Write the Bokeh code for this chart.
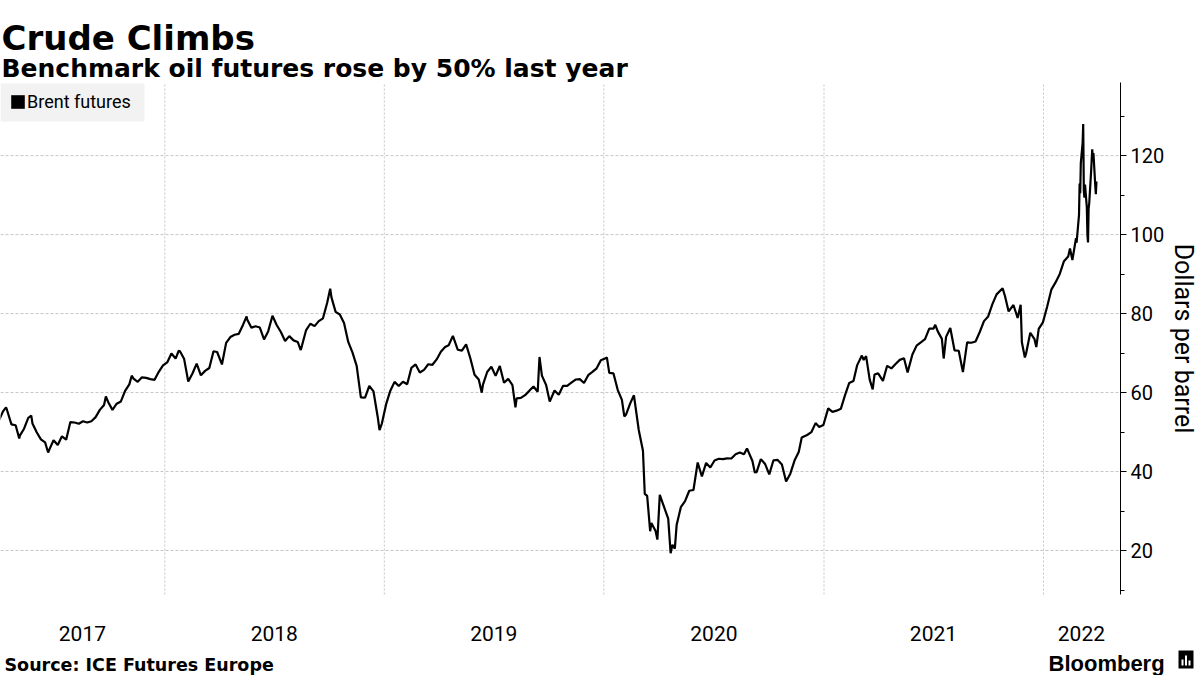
import pandas as pd
from bokeh.plotting import figure
from bokeh.models import (Range1d, FixedTicker, DatetimeTickFormatter, Legend, LegendItem,
                          Label, BoxAnnotation, ColumnDataSource)
from bokeh.embed import file_html
from bokeh.resources import INLINE

# ---------------- data (Brent front-month, USD/bbl) ----------------
dates = [
    "2017-03-31", "2017-04-07", "2017-04-12", "2017-04-13", "2017-04-21", "2017-04-28", "2017-05-04", "2017-05-05",
    "2017-05-12", "2017-05-19", "2017-05-24", "2017-05-26", "2017-06-02", "2017-06-09", "2017-06-16", "2017-06-21",
    "2017-06-23", "2017-06-30", "2017-07-07", "2017-07-14", "2017-07-21", "2017-07-28", "2017-08-04", "2017-08-11",
    "2017-08-18", "2017-08-25", "2017-09-01", "2017-09-08", "2017-09-15", "2017-09-22", "2017-09-25", "2017-09-29",
    "2017-10-06", "2017-10-13", "2017-10-20", "2017-10-27", "2017-11-03", "2017-11-07", "2017-11-10", "2017-11-17",
    "2017-11-24", "2017-12-01", "2017-12-08", "2017-12-15", "2017-12-22", "2017-12-29",
    "2018-01-05", "2018-01-12", "2018-01-19", "2018-01-24", "2018-01-26", "2018-02-02", "2018-02-09", "2018-02-16",
    "2018-02-23", "2018-03-02", "2018-03-09", "2018-03-16", "2018-03-23", "2018-03-29", "2018-04-06", "2018-04-13",
    "2018-04-20", "2018-04-27", "2018-05-04", "2018-05-11", "2018-05-17", "2018-05-18", "2018-05-25", "2018-06-01",
    "2018-06-08", "2018-06-15", "2018-06-22", "2018-06-29", "2018-07-06", "2018-07-13", "2018-07-20", "2018-07-27",
    "2018-08-03", "2018-08-10", "2018-08-15", "2018-08-17", "2018-08-24", "2018-08-31", "2018-09-07", "2018-09-14",
    "2018-09-21", "2018-09-28", "2018-10-03", "2018-10-05", "2018-10-12", "2018-10-19", "2018-10-26", "2018-11-02",
    "2018-11-09", "2018-11-16", "2018-11-23", "2018-11-30", "2018-12-07", "2018-12-14", "2018-12-21", "2018-12-24",
    "2018-12-28",
    "2019-01-04", "2019-01-11", "2019-01-18", "2019-01-25", "2019-02-01", "2019-02-08", "2019-02-15", "2019-02-22",
    "2019-03-01", "2019-03-08", "2019-03-15", "2019-03-22", "2019-03-29", "2019-04-05", "2019-04-12", "2019-04-18",
    "2019-04-25", "2019-05-03", "2019-05-10", "2019-05-17", "2019-05-24", "2019-05-31", "2019-06-07", "2019-06-12",
    "2019-06-14", "2019-06-21", "2019-06-28", "2019-07-05", "2019-07-12", "2019-07-19", "2019-07-26", "2019-08-02",
    "2019-08-07", "2019-08-09", "2019-08-16", "2019-08-23", "2019-08-30", "2019-09-06", "2019-09-13", "2019-09-16",
    "2019-09-20", "2019-09-27", "2019-10-03", "2019-10-11", "2019-10-18", "2019-10-25", "2019-11-01", "2019-11-08",
    "2019-11-15", "2019-11-22", "2019-11-29", "2019-12-06", "2019-12-13", "2019-12-20", "2019-12-27",
    "2020-01-03", "2020-01-06", "2020-01-10", "2020-01-17", "2020-01-24", "2020-01-31", "2020-02-04", "2020-02-07",
    "2020-02-14", "2020-02-20", "2020-02-28", "2020-03-06", "2020-03-09", "2020-03-13", "2020-03-18", "2020-03-20",
    "2020-03-27", "2020-03-30", "2020-04-03", "2020-04-09", "2020-04-17", "2020-04-21", "2020-04-24", "2020-04-28",
    "2020-05-01", "2020-05-08", "2020-05-15", "2020-05-22", "2020-05-29", "2020-06-05", "2020-06-12", "2020-06-19",
    "2020-06-26", "2020-07-03", "2020-07-10", "2020-07-17", "2020-07-24", "2020-07-31", "2020-08-07", "2020-08-14",
    "2020-08-21", "2020-08-26", "2020-09-04", "2020-09-08", "2020-09-11", "2020-09-18", "2020-09-25", "2020-10-02",
    "2020-10-09", "2020-10-16", "2020-10-23", "2020-10-30", "2020-11-06", "2020-11-13", "2020-11-20", "2020-11-25",
    "2020-12-04", "2020-12-11", "2020-12-18", "2020-12-24", "2020-12-31",
    "2021-01-08", "2021-01-15", "2021-01-22", "2021-01-29", "2021-02-05", "2021-02-12", "2021-02-19", "2021-02-25",
    "2021-03-05", "2021-03-08", "2021-03-12", "2021-03-18", "2021-03-23", "2021-03-26", "2021-04-01", "2021-04-09",
    "2021-04-16", "2021-04-23", "2021-04-30", "2021-05-07", "2021-05-14", "2021-05-20", "2021-05-28", "2021-06-04",
    "2021-06-11", "2021-06-18", "2021-06-25", "2021-07-02", "2021-07-05", "2021-07-09", "2021-07-16", "2021-07-19",
    "2021-07-23", "2021-07-30", "2021-08-06", "2021-08-13", "2021-08-20", "2021-08-27", "2021-09-03", "2021-09-10",
    "2021-09-17", "2021-09-24", "2021-10-01", "2021-10-08", "2021-10-15", "2021-10-25", "2021-10-29", "2021-11-04",
    "2021-11-12", "2021-11-19", "2021-11-24", "2021-11-26", "2021-12-01", "2021-12-03", "2021-12-10", "2021-12-17",
    "2021-12-20", "2021-12-24", "2021-12-31",
    "2022-01-07", "2022-01-14", "2022-01-21", "2022-01-28", "2022-02-04", "2022-02-11", "2022-02-14", "2022-02-18",
    "2022-02-24", "2022-02-25", "2022-03-01", "2022-03-02", "2022-03-03", "2022-03-04", "2022-03-07", "2022-03-08",
    "2022-03-09", "2022-03-10", "2022-03-11", "2022-03-14", "2022-03-15", "2022-03-16", "2022-03-17", "2022-03-18",
    "2022-03-21", "2022-03-23", "2022-03-24", "2022-03-25", "2022-03-28", "2022-03-29", "2022-03-30",
]
brent = [
    52.83, 55.24, 56.23, 55.89, 51.96, 51.73, 48.38, 49.10,
    50.84, 53.61, 54.15, 52.15, 49.95, 48.15, 47.37, 44.82,
    45.54, 47.92, 46.71, 48.91, 48.06, 52.52, 52.42, 52.10,
    52.72, 52.41, 52.75, 53.78, 55.62, 56.86, 59.02, 57.54,
    55.62, 57.17, 57.75, 60.44, 62.07, 64.27, 63.52, 62.72,
    63.86, 63.73, 63.40, 63.23, 65.25, 66.87,
    67.62, 69.87, 68.61, 70.53, 70.52, 68.58, 62.79, 64.84,
    67.31, 64.37, 65.49, 66.21, 70.45, 70.27, 67.11, 72.58,
    74.06, 74.64, 74.87, 77.12, 79.30, 78.51, 76.44, 76.79,
    76.46, 73.44, 75.55, 79.44, 77.11, 75.33, 73.07, 74.29,
    73.21, 72.81, 70.76, 71.83, 75.82, 77.42, 76.83, 78.09,
    78.80, 82.72, 86.29, 84.16, 80.43, 79.78, 77.62, 72.83,
    70.18, 66.76, 58.80, 58.71, 61.67, 60.28, 53.82, 50.47,
    52.20,
    57.06, 60.48, 62.70, 61.64, 62.75, 62.10, 66.25, 67.12,
    65.07, 65.74, 67.16, 67.03, 68.39, 70.34, 71.55, 71.97,
    74.35, 70.85, 70.62, 72.21, 68.69, 64.49, 63.29, 59.97,
    62.01, 65.20, 66.55, 64.23, 66.72, 62.47, 63.46, 61.89,
    56.23, 58.53, 58.64, 59.34, 60.43, 61.54, 60.22, 69.02,
    64.28, 61.91, 57.71, 60.51, 59.42, 61.67, 61.69, 62.51,
    63.30, 63.39, 62.43, 64.39, 65.22, 66.14, 68.16,
    68.60, 68.91, 64.98, 64.85, 60.69, 58.16, 53.96, 54.47,
    57.32, 59.31, 50.52, 45.27, 34.36, 33.85, 24.88, 26.98,
    24.93, 22.76, 34.11, 31.48, 28.08, 19.33, 21.44, 20.46,
    26.44, 30.97, 32.50, 35.13, 35.33, 42.30, 38.73, 42.19,
    41.02, 42.80, 43.24, 43.14, 43.34, 43.30, 44.40, 44.80,
    44.35, 45.86, 42.66, 39.78, 39.83, 43.15, 41.92, 39.27,
    42.85, 42.93, 41.77, 37.46, 39.45, 42.78, 44.96, 48.61,
    49.25, 49.97, 52.26, 51.29, 51.80,
    55.99, 55.10, 55.41, 55.88, 59.34, 62.43, 62.91, 66.88,
    69.36, 68.24, 69.22, 63.28, 60.79, 64.57, 64.86, 62.95,
    66.77, 66.11, 67.25, 68.28, 68.71, 65.11, 69.63, 71.89,
    72.69, 73.51, 76.18, 76.17, 77.16, 75.55, 73.59, 68.62,
    74.10, 76.33, 70.70, 70.59, 65.18, 72.70, 72.61, 72.92,
    75.34, 78.09, 79.28, 82.39, 84.86, 86.40, 84.38, 80.54,
    82.17, 78.89, 82.25, 72.72, 68.87, 69.88, 75.15, 73.52,
    71.52, 76.14, 77.78,
    81.75, 86.06, 87.89, 90.03, 93.27, 94.44, 96.48, 93.54,
    99.08, 97.93, 104.97, 112.93, 110.46, 118.11, 123.21, 127.98,
    111.14, 109.33, 112.67, 106.90, 99.91, 98.02, 106.64, 107.93,
    115.62, 121.60, 119.03, 120.65, 112.48, 110.23, 113.45,
]

year_starts = ["2018-01-01", "2019-01-01", "2020-01-01", "2021-01-01", "2022-01-01"]
year_label_dates = ["2017-08-17", "2018-07-02", "2019-07-02", "2020-07-02", "2021-07-02", "2022-03-05"]
y_ticks = [20, 40, 60, 80, 100, 120]
y_minor_ticks = [10, 30, 50, 70, 90, 110, 130]

title_text = "Crude Climbs"
subtitle_text = "Benchmark oil futures rose by 50% last year"
legend_text = "Brent futures"
y_label_text = "Dollars per barrel"
source_text = "Source: ICE Futures Europe"
brand_text = "Bloomberg"

# ---------------- layout constants ----------------
W, H = 1200, 675
canvas_x = ["2017-04-02 20:00", "2022-09-19"]   # whole canvas, left to right
canvas_y = [-11.65, 159.28]                       # whole canvas, bottom to top
plot_y = [8.86, 138.51]                           # extent of the chart area
axis_date = "2022-05-09"                          # where the value axis sits


def ms(d):
    return int((pd.Timestamp(d) - pd.Timestamp("1970-01-01")) // pd.Timedelta(milliseconds=1))


src = ColumnDataSource(dict(x=pd.to_datetime(dates), y=brent))

p = figure(width=W, height=H, output_backend="svg", toolbar_location=None, title=None,
           x_axis_type="datetime", y_axis_location="right",
           x_range=Range1d(ms(canvas_x[0]), ms(canvas_x[1])),
           y_range=Range1d(canvas_y[0], canvas_y[1]),
           min_border_left=0, min_border_right=0, min_border_top=0, min_border_bottom=0,
           background_fill_color="white", border_fill_color="white")
p.outline_line_color = None
p.xgrid.visible = False
p.ygrid.visible = False


def box(left, right, top, bottom, color, level="annotation"):
    # pixel box measured from the canvas top-left
    p.add_layout(BoxAnnotation(left=left, right=right, top=H - top, bottom=H - bottom,
                               left_units="screen", right_units="screen",
                               top_units="screen", bottom_units="screen",
                               fill_color=color, fill_alpha=1.0, line_color=None, level=level))


# legend background panel
box(0, 144, 83, 121, "#f2f2f2", level="underlay")

# grid lines confined to the chart area
grid_color = "#c6c6c6"
p.segment(x0=pd.to_datetime(year_starts), x1=pd.to_datetime(year_starts),
          y0=[plot_y[0]] * len(year_starts), y1=[plot_y[1]] * len(year_starts),
          line_color=grid_color, line_width=1, line_dash="2 2")
p.segment(x0=[pd.Timestamp(canvas_x[0])] * len(y_ticks), x1=[pd.Timestamp(axis_date)] * len(y_ticks),
          y0=y_ticks, y1=y_ticks, line_color=grid_color, line_width=1, line_dash="3 2")

p.line("x", "y", source=src, line_color="black", line_width=2.2)

# x axis: year labels centred in each visible year
p.xaxis.fixed_location = plot_y[0]
p.xaxis.ticker = FixedTicker(ticks=[ms(d) for d in year_label_dates])
fmt = "%Y"
p.xaxis.formatter = DatetimeTickFormatter(years=fmt, months=fmt, days=fmt, hours=fmt, hourmin=fmt,
                                          minutes=fmt, minsec=fmt, seconds=fmt, milliseconds=fmt,
                                          microseconds=fmt)
p.xaxis.axis_line_color = None
p.xaxis.major_tick_line_color = None
p.xaxis.minor_tick_line_color = None
p.xaxis.major_label_text_font = "Roboto"
p.xaxis.major_label_text_font_size = "21px"
p.xaxis.major_label_text_color = "#000000"
p.xaxis.major_label_standoff = 25

# value axis (right side of chart)
p.yaxis.fixed_location = ms(axis_date)
p.yaxis.bounds = (plot_y[0], plot_y[1])
p.yaxis.ticker = FixedTicker(ticks=y_ticks, minor_ticks=y_minor_ticks)
p.yaxis.axis_line_color = "black"
p.yaxis.axis_line_width = 1
p.yaxis.major_tick_line_color = "black"
p.yaxis.minor_tick_line_color = "black"
p.yaxis.major_tick_out = 6
p.yaxis.major_tick_in = 0
p.yaxis.minor_tick_out = 4
p.yaxis.minor_tick_in = 0
p.yaxis.major_label_text_font = "Roboto"
p.yaxis.major_label_text_font_size = "20px"
p.yaxis.major_label_text_color = "#000000"
p.yaxis.major_label_standoff = 4
p.yaxis.axis_label = y_label_text
p.yaxis.axis_label_text_font = "Roboto"
p.yaxis.axis_label_text_font_size = "25px"
p.yaxis.axis_label_text_font_style = "normal"
p.yaxis.axis_label_text_color = "#000000"
p.yaxis.axis_label_standoff = 2

# legend
leg_r = p.quad(left=[float("nan")], right=[float("nan")], top=[float("nan")], bottom=[float("nan")],
               fill_color="black", line_color=None)
legend = Legend(items=[LegendItem(label=legend_text, renderers=[leg_r])],
                location=(9, H - 112), margin=0, padding=0, spacing=0,
                background_fill_alpha=0.0, border_line_color=None,
                glyph_width=17, glyph_height=17, label_standoff=1, label_height=20,
                label_text_font="Roboto", label_text_font_size="18px", label_text_color="#000000")
p.add_layout(legend)


def add_label(text, x, baseline_y, size, font, bold=False, color="#000000"):
    # x, baseline_y are pixel positions measured from the canvas top-left
    p.add_layout(Label(x=x, y=H - baseline_y, x_units="screen", y_units="screen", text=text,
                       text_font=font, text_font_size=size,
                       text_font_style="bold" if bold else "normal",
                       text_align="left", text_baseline="alphabetic",
                       text_color=color))


add_label(title_text, 1, 37, "34px", "DejaVu Sans", bold=True)
add_label(subtitle_text, 1, 68, "25px", "DejaVu Sans", bold=True)
add_label(source_text, 4, 664, "17.5px", "DejaVu Sans", bold=True)
add_label(brand_text, 1048, 663, "22px", "Liberation Sans", bold=True)

# small brand icon (black tile with white bars)
box(1178, 1193, 650, 668, "black")
box(1181, 1183, 659, 665, "white")
box(1184.5, 1186.5, 655, 665, "white")
box(1188, 1190, 660, 665, "white")

open("out.html", "w").write(file_html(p, INLINE))
